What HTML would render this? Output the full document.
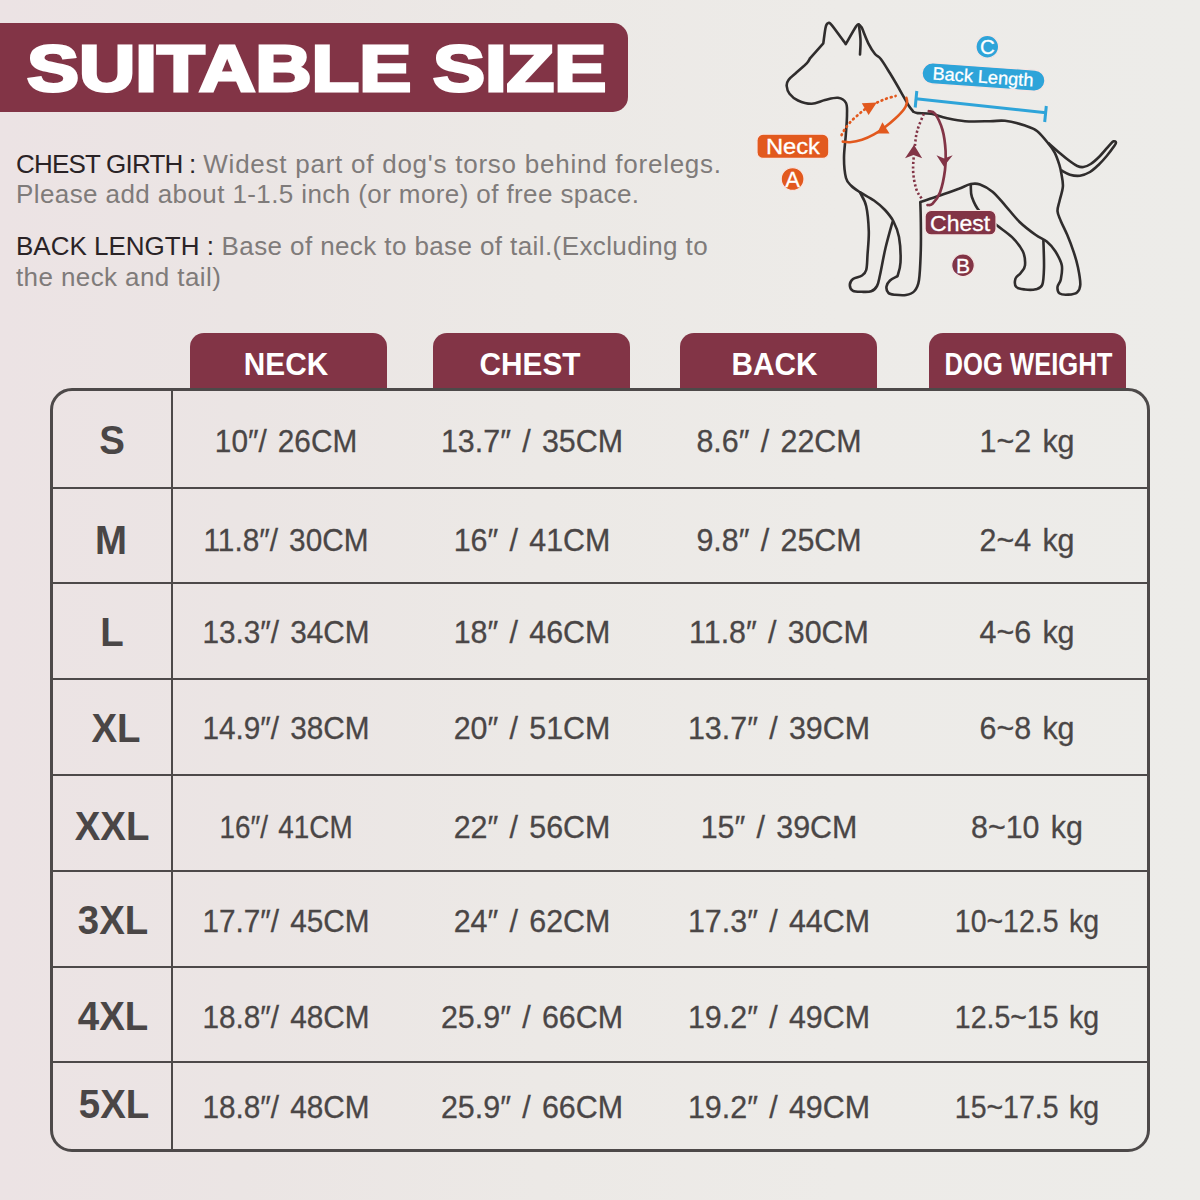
<!DOCTYPE html>
<html><head><meta charset="utf-8">
<style>
html,body{margin:0;padding:0;}
body{width:1200px;height:1200px;overflow:hidden;position:relative;
 background:linear-gradient(90deg,#ECE3E4 0%,#EBE5E4 20%,#ECE9E6 45%,#EDEBE8 70%,#EDECE9 100%);
 font-family:"Liberation Sans",sans-serif;}
.abs{position:absolute;}
#title{left:0;top:23px;width:628px;height:89px;background:#823446;border-radius:0 15px 15px 0;}
#title span{position:absolute;left:27px;top:8px;font-weight:bold;color:#fff;font-size:65px;line-height:76px;white-space:nowrap;-webkit-text-stroke:3px #fff;transform:scaleX(1.2);transform-origin:0 0;}
.desc{position:absolute;left:16px;font-size:26px;letter-spacing:0.4px;line-height:30px;color:#7f7b7a;white-space:nowrap;}
.desc b{font-weight:normal;color:#2a2326;}
.tab{position:absolute;top:333px;width:197px;height:58px;background:#823446;border-radius:14px 14px 0 0;}
.tab span{position:absolute;left:0;right:0;top:14px;text-align:center;color:#fff;font-weight:bold;font-size:32px;line-height:34px;transform:scaleX(0.93);}
#tbl{position:absolute;left:50px;top:388px;width:1100px;height:764px;box-sizing:border-box;border:3px solid #4d4949;border-radius:22px;}
.hl{position:absolute;left:52px;width:1096px;height:2px;background:#4d4949;}
.vl{position:absolute;left:171px;top:390px;width:2px;height:760px;background:#4d4949;}
.sz{position:absolute;left:52px;width:120px;height:40px;text-align:center;font-weight:bold;font-size:40px;color:#4a4646;line-height:40px;transform:scaleX(0.96);}
.cell{position:absolute;width:260px;height:40px;text-align:center;font-size:32px;color:#4a4646;line-height:40px;white-space:nowrap;transform:scaleX(0.95);word-spacing:3px;-webkit-text-stroke:0.3px #4a4646;}
</style></head><body>
<div id="title" class="abs"><span>SUITABLE SIZE</span></div>

<div class="desc" style="top:149px;letter-spacing:0.75px"><b style="letter-spacing:-0.8px">CHEST GIRTH :</b> Widest part of dog's torso behind forelegs.</div>
<div class="desc" style="top:179px">Please add about 1-1.5 inch (or more) of free space.</div>
<div class="desc" style="top:231px;letter-spacing:0.4px"><b style="letter-spacing:0px">BACK LENGTH :</b> Base of neck to base of tail.(Excluding to</div>
<div class="desc" style="top:262px">the neck and tail)</div>

<!--DOG-->
<svg id="dog" width="1200" height="320" viewBox="0 0 1200 320" style="position:absolute;left:0;top:0">
<g fill="none" stroke="#302d2d" stroke-width="2.6" stroke-linecap="round" stroke-linejoin="round">
<path d="M913.3 111.7 C912.5 110.6 910.2 108.1 908.3 105.0 C906.4 101.9 904.8 98.6 901.7 93.3 C898.7 88.0 893.5 79.0 890.0 73.3 C886.5 67.6 883.3 62.2 880.8 59.0 C878.3 55.8 877.1 56.6 875.0 54.0 C872.9 51.4 870.5 47.6 868.3 43.3 C866.1 39.0 863.0 30.6 862.0 28.0 C861.5 27.4 859.8 24.8 858.8 24.5 C857.8 24.2 858.2 23.2 856.0 26.5 C853.8 29.8 847.5 41.2 845.8 44.2 C843.4 41.0 834.5 28.2 831.5 24.8 C828.5 21.4 828.5 23.0 827.5 23.5 C826.5 24.0 826.2 24.7 825.5 28.0 C824.8 31.3 823.7 40.8 823.3 43.3 C821.1 45.8 812.2 55.8 810.0 58.3 C809.5 59.1 808.9 61.0 806.7 63.3 C804.5 65.6 799.7 69.5 796.7 72.3 C793.7 75.1 790.2 77.7 788.5 80.0 C786.8 82.3 786.5 83.7 786.7 86.0 C786.9 88.3 787.6 91.3 789.5 93.7 C791.4 96.1 794.3 98.8 798.0 100.5 C801.7 102.2 807.2 103.9 811.7 103.8 C816.2 103.7 820.6 101.0 825.0 100.0 C829.4 99.0 834.5 97.3 838.0 97.8 C841.5 98.3 844.5 100.1 846.0 103.0 C847.5 105.9 847.0 109.7 847.0 115.0 C847.0 120.3 846.3 127.8 845.8 135.0 C845.3 142.2 844.0 150.8 844.0 158.0 C844.0 165.2 844.8 173.3 846.0 178.0 C847.2 182.7 849.2 183.6 851.5 186.0 C853.8 188.4 856.2 189.8 860.0 192.2 C863.8 194.6 869.8 197.5 874.0 200.5 C878.2 203.5 881.8 206.5 885.0 210.0 C888.2 213.5 891.2 217.0 893.5 221.5 C895.8 226.0 897.8 230.2 899.0 237.0 C900.2 243.8 900.8 256.0 900.5 262.5 C900.2 269.0 898.0 274.0 897.5 276.2 C896.2 277.0 891.8 278.8 890.0 280.5 C888.2 282.2 886.8 284.4 886.5 286.5 C886.2 288.6 887.1 291.6 888.5 293.0 C889.9 294.4 892.1 294.5 895.0 294.8 C897.9 295.1 902.8 295.6 906.0 295.0 C909.2 294.4 912.3 293.5 914.5 291.0 C916.7 288.5 918.0 286.8 919.0 280.0 C920.0 273.2 920.5 260.0 920.8 250.0 C921.1 240.0 920.9 228.0 920.8 220.0 C920.7 212.0 920.4 205.0 920.3 202.0 C923.6 200.9 933.6 197.7 940.0 195.5 C946.4 193.3 953.6 190.7 958.8 188.8 C963.9 186.8 967.3 184.8 970.8 184.1 C974.3 183.4 976.4 183.2 980.0 184.5 C983.6 185.8 988.2 188.1 992.5 191.7 C996.8 195.2 1001.0 200.8 1005.5 205.8 C1010.0 210.9 1014.6 217.1 1019.6 222.0 C1024.7 226.9 1031.3 231.8 1035.8 235.0 C1040.3 238.2 1043.5 238.8 1046.7 241.5 C1050.0 244.2 1052.8 247.3 1055.3 251.3 C1057.8 255.3 1060.9 260.6 1061.8 265.3 C1062.7 270.0 1061.5 275.8 1060.8 279.4 C1060.1 283.0 1057.7 284.6 1057.5 287.0 C1057.3 289.4 1057.9 292.2 1059.7 293.5 C1061.5 294.8 1065.4 294.8 1068.3 294.6 C1071.2 294.4 1075.0 294.0 1077.0 292.4 C1079.0 290.8 1080.1 288.9 1080.3 284.8 C1080.5 280.7 1079.1 272.9 1078.0 267.5 C1076.9 262.1 1075.6 257.7 1073.8 252.3 C1072.0 246.9 1069.5 240.2 1067.3 235.0 C1065.1 229.8 1062.4 224.9 1060.8 220.9 C1059.2 216.9 1057.7 214.6 1057.5 211.2 C1057.3 207.8 1058.8 204.5 1059.7 200.3 C1060.6 196.2 1062.6 190.8 1062.9 186.3 C1063.2 181.8 1061.9 176.9 1061.3 173.3 C1060.7 169.7 1060.4 168.1 1059.3 164.7 C1058.2 161.3 1056.5 156.1 1054.7 152.7 C1052.9 149.2 1051.7 147.6 1048.7 144.0 C1045.8 140.4 1041.0 134.1 1037.0 131.0 C1033.0 127.9 1030.3 127.2 1025.0 125.5 C1019.7 123.8 1010.8 121.5 1005.0 120.8 C999.2 120.1 996.7 121.2 990.0 121.2 C983.3 121.3 972.3 121.8 965.0 121.2 C957.7 120.7 951.9 119.3 946.2 118.1 C940.6 116.8 936.0 114.6 931.2 113.8 C926.5 112.9 920.5 113.4 917.5 113.1 C914.5 112.8 914.0 111.9 913.3 111.7"/>
<path d="M858.8 24.5 C859.1 27.1 860.3 35.0 860.5 40.0 C860.7 45.0 860.1 52.1 860.0 54.5"/>
<path d="M860.0 192.5 C861.0 194.8 864.8 199.8 866.2 206.2 C867.7 212.7 868.5 223.1 868.8 231.2 C869.0 239.4 867.9 248.5 867.5 255.0 C867.1 261.5 867.2 266.6 866.2 270.0 C865.3 273.4 864.2 274.0 862.0 275.5 C859.8 277.0 855.0 277.4 853.0 279.0 C851.0 280.6 849.8 283.0 849.8 285.0 C849.8 287.0 851.0 289.7 853.0 290.8 C855.0 291.9 859.0 291.7 862.0 291.8 C865.0 291.9 868.8 292.2 871.2 291.2 C873.8 290.3 875.5 288.7 877.0 286.0 C878.5 283.3 878.6 281.3 880.0 275.0 C881.4 268.7 883.4 256.8 885.5 248.0 C887.6 239.2 891.3 226.3 892.5 222.0"/>
<path d="M970.8 185.2 C971.0 187.2 970.4 192.7 971.9 197.0 C973.4 201.3 975.4 206.5 979.5 211.2 C983.6 215.9 991.4 221.0 996.8 225.3 C1002.2 229.6 1007.7 232.9 1012.0 237.2 C1016.3 241.5 1020.6 246.6 1022.8 251.3 C1025.0 256.0 1025.3 261.7 1025.0 265.3 C1024.7 268.9 1022.3 270.7 1020.7 272.9 C1019.1 275.1 1016.2 276.1 1015.5 278.5 C1014.8 280.9 1014.7 285.2 1016.3 287.0 C1017.9 288.8 1021.8 289.1 1025.0 289.5 C1028.2 289.9 1032.9 290.0 1035.8 289.2 C1038.7 288.4 1040.9 288.4 1042.3 284.8 C1043.7 281.2 1043.8 274.9 1044.0 267.5 C1044.2 260.1 1043.5 244.9 1043.4 240.4"/>
<path d="M1048.7 143.3 C1050.6 145.0 1056.5 150.3 1060.0 153.3 C1063.5 156.3 1067.1 159.2 1070.0 161.3 C1072.9 163.4 1075.1 165.1 1077.3 166.0 C1079.5 166.9 1081.1 167.3 1083.3 167.0 C1085.5 166.7 1087.9 165.8 1090.7 164.0 C1093.5 162.2 1096.9 159.1 1100.0 156.0 C1103.1 152.9 1107.0 147.8 1109.3 145.3 C1111.5 142.9 1112.4 141.7 1113.5 141.3 C1114.6 140.9 1116.0 141.7 1116.0 142.7 C1116.0 143.7 1114.8 145.1 1113.3 147.3 C1111.8 149.5 1109.1 153.1 1106.7 156.0 C1104.3 158.9 1101.5 162.0 1098.7 164.7 C1095.9 167.4 1093.1 170.2 1090.0 172.0 C1086.9 173.8 1083.3 175.2 1080.0 175.7 C1076.7 176.1 1073.1 175.6 1070.0 174.7 C1066.9 173.8 1062.9 171.2 1061.5 170.5"/>
</g>
<path d="M906.4 97.8 C906.5 98.6 907.4 100.6 907.0 102.5 C906.6 104.4 906.0 106.5 904.0 109.2 C902.0 111.9 898.2 115.8 895.0 118.8 C891.8 121.8 888.3 124.6 884.8 127.2 C881.3 129.8 877.8 132.3 874.0 134.4 C870.2 136.5 866.0 138.5 862.0 139.8 C858.0 141.1 853.2 141.9 850.0 142.2 C846.8 142.5 844.0 141.7 842.8 141.6" fill="none" stroke="#E2591E" stroke-width="2.6" stroke-linecap="round"/>
<path d="M841.6 135.0 C842.1 134.1 843.1 131.8 844.6 129.6 C846.1 127.4 848.3 124.3 850.6 121.8 C852.9 119.3 855.8 116.8 858.4 114.6 C861.0 112.4 863.0 110.5 866.0 108.5 C869.0 106.5 873.2 104.5 876.4 102.9 C879.6 101.3 882.2 100.2 885.4 99.0 C888.6 97.8 893.9 96.5 895.6 96.0" fill="none" stroke="#E2591E" stroke-width="2.7" stroke-dasharray="0.8 4.1" stroke-linecap="round"/>
<path d="M877 133.5 L882.4 122.2 L889.5 133.6Z" fill="#E2591E"/>
<path d="M861.8 103.2 L876.8 102.4 L868.6 115Z" fill="#E2591E"/>
<path d="M928.8 111.2 C929.8 111.7 932.7 110.6 935.0 113.8 C937.3 116.9 940.7 123.8 942.5 130.0 C944.3 136.2 945.2 144.6 945.6 151.2 C946.0 157.9 945.9 163.1 945.0 170.0 C944.1 176.9 942.1 186.9 940.0 192.5 C937.9 198.1 934.6 201.7 932.5 203.8 C930.4 205.8 928.3 204.8 927.5 205.0" fill="none" stroke="#823446" stroke-width="2.7" stroke-linecap="round"/>
<path d="M923.8 113.8 C922.7 116.5 919.0 124.8 917.5 130.0 C916.0 135.2 915.7 138.3 915.0 145.0 C914.3 151.7 912.9 162.7 913.1 170.0 C913.3 177.3 914.7 183.8 916.2 188.8 C917.8 193.8 921.5 198.1 922.5 200.0" fill="none" stroke="#823446" stroke-width="2.6" stroke-dasharray="2.2 2.3"/>
<path d="M936.5 155.2 L944.2 158.5 L952.7 155.2 L943.8 166.6Z" fill="#823446"/>
<path d="M914 144.8 L922.2 158.2 L913.5 155 L905 158.2Z" fill="#823446"/>
<g stroke="#2EA4D9" stroke-width="3" stroke-linecap="butt" fill="none"><path d="M916 98.7 L1046 112.7"/><path d="M916.8 91 L915.2 107.5"/><path d="M1046.3 106 L1044.7 122"/></g>
<g><rect x="757.0" y="134.2" width="71.8" height="24.2" rx="6.0" fill="#E2591E" stroke="#f6e6e3" stroke-width="1.2"/><text x="792.9" y="153.9" textLength="54.0" lengthAdjust="spacingAndGlyphs" text-anchor="middle" font-family="Liberation Sans" font-size="21.5" fill="#fff" stroke="#fff" stroke-width="0.3">Neck</text></g>
<circle cx="792.6" cy="179.0" r="11.4" fill="#E2591E" stroke="#f6e6e3" stroke-width="1.2"/><text x="792.6" y="186.5" text-anchor="middle" font-family="Liberation Sans" font-size="22.0" fill="#fff" stroke="#fff" stroke-width="0.3">A</text>
<g><rect x="925.1" y="210.5" width="70.9" height="24.4" rx="6.0" fill="#823446" stroke="#f6e6e3" stroke-width="1.2"/><text x="960.1" y="230.8" textLength="60.0" lengthAdjust="spacingAndGlyphs" text-anchor="middle" font-family="Liberation Sans" font-size="22.0" fill="#fff" stroke="#fff" stroke-width="0.3">Chest</text></g>
<circle cx="963.0" cy="265.3" r="11.3" fill="#823446" stroke="#f6e6e3" stroke-width="1.2"/><text x="963.0" y="273.2" text-anchor="middle" font-family="Liberation Sans" font-size="21.0" fill="#fff" stroke="#fff" stroke-width="0.3">B</text>
<g transform="rotate(4.0 983.5 77.0)"><rect x="922.0" y="66.5" width="123.0" height="21.0" rx="10.5" fill="#2EA4D9" stroke="#f6e6e3" stroke-width="1.2"/><text x="983.0" y="83.0" textLength="101.0" lengthAdjust="spacingAndGlyphs" text-anchor="middle" font-family="Liberation Sans" font-size="18.0" fill="#fff" stroke="#fff" stroke-width="0.3">Back Length</text></g>
<circle cx="987.3" cy="46.7" r="11.3" fill="#2EA4D9" stroke="#f6e6e3" stroke-width="1.2"/><text x="987.3" y="54.0" text-anchor="middle" font-family="Liberation Sans" font-size="20.5" fill="#fff" stroke="#fff" stroke-width="0.3">C</text>
</svg>
<!--/DOG-->
<div class="tab" style="left:190px"><span style="left:-5px;right:0">NECK</span></div>
<div class="tab" style="left:433px"><span style="left:-3px;right:0">CHEST</span></div>
<div class="tab" style="left:680px"><span style="left:-8px;right:0">BACK</span></div>
<div class="tab" style="left:929px"><span style="white-space:nowrap;transform:scaleX(0.80);left:-18px;right:-20px">DOG WEIGHT</span></div>

<div id="tbl"></div>
<div class="vl"></div>
<div class="hl" style="top:487px"></div>
<div class="hl" style="top:582px"></div>
<div class="hl" style="top:678px"></div>
<div class="hl" style="top:774px"></div>
<div class="hl" style="top:870px"></div>
<div class="hl" style="top:966px"></div>
<div class="hl" style="top:1061px"></div>

<div class="sz" style="top:420.3px;left:52.0px">S</div>
<div class="cell" style="left:156px;top:421.1px;transform:scaleX(0.93)">10″/ 26CM</div>
<div class="cell" style="left:402px;top:421.1px">13.7″ / 35CM</div>
<div class="cell" style="left:649px;top:421.1px">8.6″ / 22CM</div>
<div class="cell" style="left:897px;top:421.1px">1~2 kg</div>
<div class="sz" style="top:520.4px;left:51.0px">M</div>
<div class="cell" style="left:156px;top:520.1px;transform:scaleX(0.93)">11.8″/ 30CM</div>
<div class="cell" style="left:402px;top:520.1px">16″ / 41CM</div>
<div class="cell" style="left:649px;top:520.1px">9.8″ / 25CM</div>
<div class="cell" style="left:897px;top:520.1px">2~4 kg</div>
<div class="sz" style="top:611.9px;left:52.0px">L</div>
<div class="cell" style="left:156px;top:611.9px;transform:scaleX(0.93)">13.3″/ 34CM</div>
<div class="cell" style="left:402px;top:611.9px">18″ / 46CM</div>
<div class="cell" style="left:649px;top:611.9px">11.8″ / 30CM</div>
<div class="cell" style="left:897px;top:611.9px">4~6 kg</div>
<div class="sz" style="top:707.6px;left:55.5px">XL</div>
<div class="cell" style="left:156px;top:708.4px;transform:scaleX(0.93)">14.9″/ 38CM</div>
<div class="cell" style="left:402px;top:708.4px">20″ / 51CM</div>
<div class="cell" style="left:649px;top:708.4px">13.7″ / 39CM</div>
<div class="cell" style="left:897px;top:708.4px">6~8 kg</div>
<div class="sz" style="top:805.9px;left:52.0px">XXL</div>
<div class="cell" style="left:156px;top:807.1px;transform:scaleX(0.87)">16″/ 41CM</div>
<div class="cell" style="left:402px;top:807.1px">22″ / 56CM</div>
<div class="cell" style="left:649px;top:807.1px">15″ / 39CM</div>
<div class="cell" style="left:897px;top:807.1px">8~10 kg</div>
<div class="sz" style="top:899.9px;left:53.0px">3XL</div>
<div class="cell" style="left:156px;top:901.4px;transform:scaleX(0.93)">17.7″/ 45CM</div>
<div class="cell" style="left:402px;top:901.4px">24″ / 62CM</div>
<div class="cell" style="left:649px;top:901.4px">17.3″ / 44CM</div>
<div class="cell" style="left:897px;top:901.4px;transform:scaleX(0.89)">10~12.5 kg</div>
<div class="sz" style="top:995.6px;left:53.0px">4XL</div>
<div class="cell" style="left:156px;top:997.3px;transform:scaleX(0.93)">18.8″/ 48CM</div>
<div class="cell" style="left:402px;top:997.3px">25.9″ / 66CM</div>
<div class="cell" style="left:649px;top:997.3px">19.2″ / 49CM</div>
<div class="cell" style="left:897px;top:997.3px;transform:scaleX(0.89)">12.5~15 kg</div>
<div class="sz" style="top:1084.2px;left:53.5px">5XL</div>
<div class="cell" style="left:156px;top:1086.6px;transform:scaleX(0.93)">18.8″/ 48CM</div>
<div class="cell" style="left:402px;top:1086.6px">25.9″ / 66CM</div>
<div class="cell" style="left:649px;top:1086.6px">19.2″ / 49CM</div>
<div class="cell" style="left:897px;top:1086.6px;transform:scaleX(0.89)">15~17.5 kg</div>
</body></html>
